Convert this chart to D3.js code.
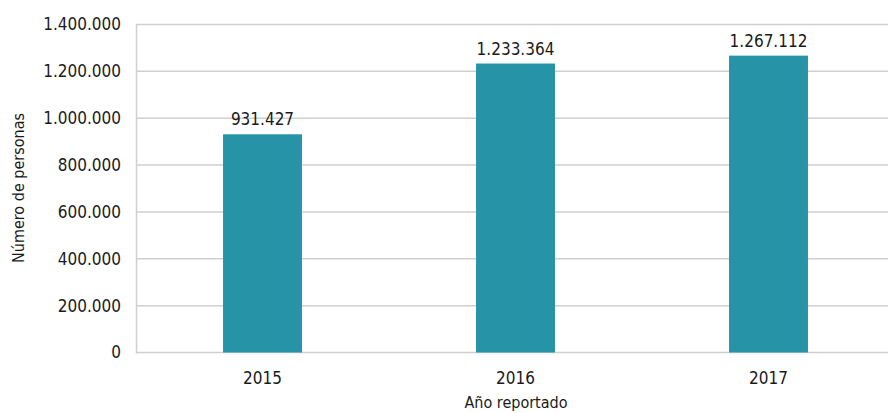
<!DOCTYPE html>
<html><head><meta charset="utf-8">
<script src="https://cdn.jsdelivr.net/npm/d3@7"></script>
<style>
body{margin:0;background:#fff;}
text{font-family:"Liberation Sans Narrow","DejaVu Sans Condensed",sans-serif;fill:#1a1a1a;}
</style></head><body>
<svg id="c" width="888" height="413"></svg>
<script>
const categories = ["2015","2016","2017"];
const values = [931427, 1233364, 1267112];
const yTicks = [0,200000,400000,600000,800000,1000000,1200000,1400000];
const yTitle = "Número de personas";
const xTitle = "Año reportado";

const svg = d3.select("#c");
const fmt = v => d3.format(",")(v).replace(/,/g, ".");
const x = d3.scaleBand().domain(categories).range([136, 895]).paddingInner(0.688).paddingOuter(0.344);
const y = d3.scaleLinear().domain([0, 1400000]).range([352.5, 24.5]);

// gridlines
svg.append("g").selectAll("line").data(yTicks).join("line")
  .attr("x1", 136).attr("x2", 888)
  .attr("y1", d => y(d)).attr("y2", d => y(d))
  .attr("stroke", "#cfcfcf").attr("stroke-width", 1.5);
// left axis line
svg.append("line").attr("x1",136.5).attr("x2",136.5).attr("y1",y(1400000)).attr("y2",y(0)+1)
  .attr("stroke","#cfcfcf").attr("stroke-width",1.5);

// y tick labels
svg.append("g").selectAll("text").data(yTicks).join("text")
  .attr("x", 121).attr("y", d => y(d)).attr("dy","0.35em")
  .attr("text-anchor","end").attr("font-size",17).text(fmt);

// bars
svg.append("g").selectAll("rect").data(values).join("rect")
  .attr("x", (d,i) => x(categories[i])).attr("width", x.bandwidth())
  .attr("y", d => y(d)).attr("height", d => y(0) - y(d))
  .attr("fill", "#2693a7");

// value labels
svg.append("g").selectAll("text").data(values).join("text")
  .attr("x", (d,i) => x(categories[i]) + x.bandwidth()/2)
  .attr("y", d => y(d) - 9)
  .attr("text-anchor","middle").attr("font-size",17).text(fmt);

// x labels
svg.append("g").selectAll("text").data(categories).join("text")
  .attr("x", d => x(d) + x.bandwidth()/2).attr("y", 384)
  .attr("text-anchor","middle").attr("font-size",17).text(d => d);

// titles
svg.append("text").attr("x", 516).attr("y", 408).attr("text-anchor","middle")
  .attr("font-size",16).text(xTitle);
svg.append("text").attr("transform","translate(24,188) rotate(-90)")
  .attr("text-anchor","middle").attr("font-size",16).text(yTitle);
</script>
</body></html>
